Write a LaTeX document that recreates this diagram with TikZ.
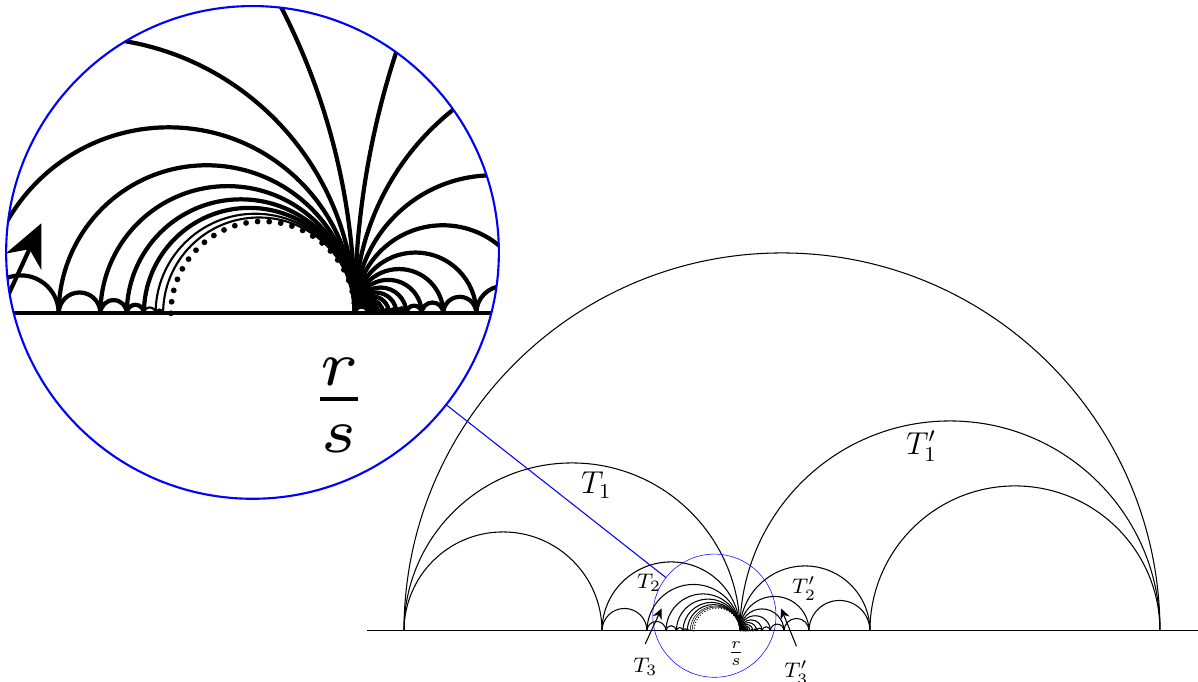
\documentclass[tikz,border=0pt]{standalone}
\usepackage{xcolor}
\usepackage{tikz}
\usetikzlibrary{arrows.meta, spy}
\definecolor{SpyBlue}{RGB}{0, 0, 255}

% half circle over the real axis from #2 to #3
\newcommand{\geo}[3][]{\draw[#1] (#2,0) arc[start angle=180, end angle=0, radius={((#3)-(#2))/2}];}

\begin{document}
\begin{tikzpicture}[
    spy using outlines={circle, SpyBlue, magnification=4, size=6.57cm, connect spies},
    every spy in node/.style={thick},
    bigT/.style={font=\fontsize{12}{14}\selectfont},
    smallT/.style={font=\fontsize{8}{9.5}\selectfont},
    thinarc/.style={line width=0.2pt},
    dots/.style={line width=0.55pt, line cap=round, dash pattern=on 0pt off 1.1pt},
    pointer/.style={-{Stealth[length=4pt, width=3.7pt]}}
  ]
  \useasboundingbox (-9.867,-0.68) rectangle (6.107,8.413);

  % real axis
  \draw (-4.973,0) -- (6.107,0);

  % outer arcs
  \geo{-4.48}{5.6}
  \geo{-4.48}{0}
  \geo{0}{5.6}
  \geo{-4.48}{-1.84}
  \geo{1.733}{5.6}

  % left side, going in to the dotted limit arc
  \foreach \a/\b in {-1.84/-1.24, -1.24/-0.987, -0.987/-0.848, -0.848/-0.76, -0.76/-0.703}{
    \geo{\a}{0}
    \geo{\a}{\b}
  }
  \geo{-0.703}{0}
  \foreach \a/\b in {-0.703/-0.664, -0.664/-0.639}{
    \geo[thinarc]{\b}{0}
    \geo[thinarc]{\a}{\b}
  }
  \geo[dots]{-0.613}{0}

  % right side, going in to r/s
  \foreach \a/\b in {1.733/0.92, 0.92/0.587, 0.587/0.405, 0.405/0.295, 0.295/0.223, 0.223/0.172,
                     0.172/0.139, 0.139/0.114, 0.114/0.094, 0.094/0.078, 0.078/0.065, 0.065/0.054, 0.054/0.045}{
    \geo{0}{\a}
    \geo{\b}{\a}
  }
  \geo{0}{0.045}

  % labels
  \node[bigT] (t1) at (-1.915,1.939) {$T_1$};
  \node[bigT] (t1p) at (2.42,2.461) {$T_1'$};
  \node[smallT] (t2) at (-1.213,0.647) {$T_2$};
  \node[smallT] (t2p) at (0.856,0.567) {$T_2'$};
  \node[smallT] (t3) at (-1.263,-0.483) {$T_3$};
  \node[smallT] (t3p) at (0.753,-0.553) {$T_3'$};
  \node[smallT] (rs) at (-0.053,-0.307) {$\frac{r}{s}$};

  \coordinate (t3tip) at (-1.045,0.3);
  \coordinate (t3ptip) at (0.548,0.3);
  \draw[pointer] ([yshift=2pt]t3.north) -- (t3tip);
  \draw[pointer] ([yshift=2pt]t3p.north) -- (t3ptip);

  \spy on (-0.341,0.203) in node at (-6.5,5.047);
\end{tikzpicture}
\end{document}
